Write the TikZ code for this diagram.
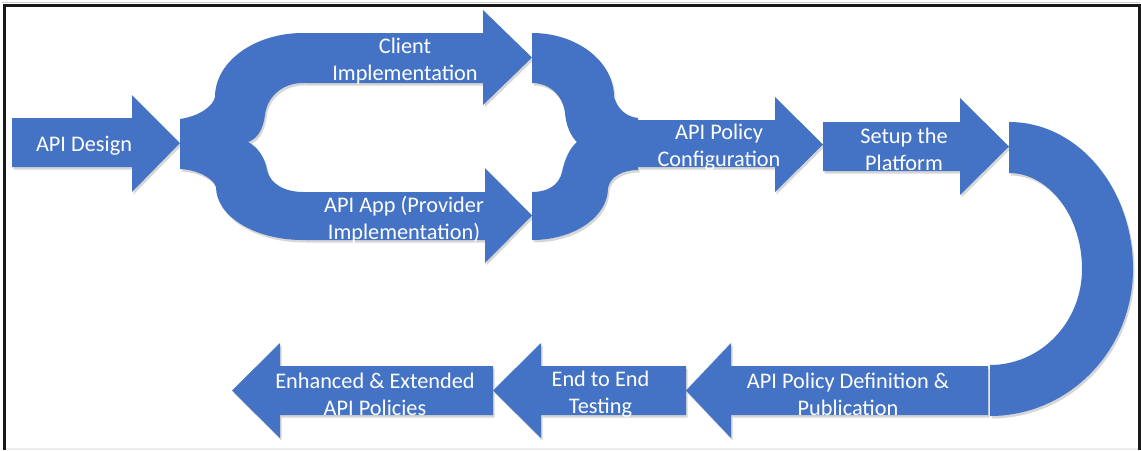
\documentclass[tikz,border=0pt]{standalone}
\usepackage{fontspec}
\setmainfont{Carlito}
\definecolor{officeblue}{HTML}{4472C4}
\def\pthDesign{(12,118) -- (132,118) -- (132,95) -- (180,143) -- (132,192) -- (132,167) -- (12,167) -- cycle}
\def\pthClient{(303,33) -- (483,33) -- (483,10) -- (532,57.5) -- (483,105) -- (483,83) -- (303,83) -- cycle}
\def\pthApp{(303,192) -- (485,192) -- (485,168) -- (532,215.5) -- (485,263) -- (485,240) -- (303,240) -- cycle}
\def\pthConfig{(638,120) -- (775,120) -- (775,97) -- (823,144.5) -- (775,192) -- (775,167) -- (638,167) -- cycle}
\def\pthSetup{(823,122) -- (960,122) -- (960,98) -- (1009,146.5) -- (960,195) -- (960,171) -- (823,171) -- cycle}
\def\pthDef{(988,366) -- (731,366) -- (731,343) -- (686,390.5) -- (731,438) -- (731,415) -- (988,415) -- cycle}
\def\pthTest{(686,366) -- (541,366) -- (541,343) -- (493,390.5) -- (541,438) -- (541,415) -- (686,415) -- cycle}
\def\pthEnh{(493,366) -- (280,366) -- (280,343) -- (232,390.5) -- (280,438) -- (280,415) -- (493,415) -- cycle}
\def\pthFork{(180,119) .. controls (200,116) and (213,106) .. (215,97)
  .. controls (215,61.7) and (254.4,33) .. (303,33) -- (303,83)
  .. controls (282,83) and (267,97) .. (265,115)
  .. controls (263,130) and (257,139) .. (248,142)
  .. controls (258,147) and (265,158) .. (267,170)
  .. controls (270,184) and (285,192) .. (303,192) -- (303,240)
  .. controls (255,240) and (216,216.3) .. (216,187)
  .. controls (213,178) and (198,170) .. (180,169) -- cycle}
\def\pthMerge{(532,33) .. controls (577.3,33) and (614,61.7) .. (614,97)
  .. controls (617,108) and (626,117) .. (638,118) -- (638,170)
  .. controls (622,170) and (610,177) .. (608,188)
  .. controls (608,216.7) and (574,240) .. (532,240) -- (532,192)
  .. controls (548,192) and (559,185) .. (562,172)
  .. controls (565,158) and (570,148) .. (577,142)
  .. controls (570,135) and (566,125) .. (565,113)
  .. controls (563,96) and (550,83) .. (532,83) -- cycle}
\def\pthU{(1009,122) .. controls (1078,122) and (1133,188) .. (1133,269)
  .. controls (1133,350) and (1069,416) .. (990,416) -- (990,365)
  .. controls (1041,365) and (1082,322) .. (1082,269)
  .. controls (1082,216) and (1049,173) .. (1009,173) -- cycle}
\begin{document}
\begin{tikzpicture}[x=1pt,y=-1pt,
  shd/.style={fill=black!16, shift={(1.5,2.5)}},
  blk/.style={fill=officeblue},
  txt/.style={text=white, align=center, inner sep=0pt,
    font=\fontsize{22.3}{27.2}\selectfont},
  frame/.style={line width=3pt, black!90}]
\useasboundingbox (0,0) rectangle (1141,450);
\fill[white] (0,0) rectangle (1141,450);
% frame
\draw[gray!40, line width=1pt] (2,2.5) -- (1140,2.5);
\draw[frame] (4.5,450) -- (4.5,5.5) -- (1139.5,5.5) -- (1139.5,450);
\draw[gray!15, line width=2pt] (6,449) -- (1138,449);
% shadows
\fill[shd] \pthDesign;
\fill[shd] \pthFork;
\fill[shd] \pthClient;
\fill[shd] \pthApp;
\fill[shd] \pthMerge;
\fill[shd] \pthConfig;
\fill[shd] \pthSetup;
\fill[shd] \pthU;
\fill[shd] \pthDef;
\fill[shd] \pthTest;
\fill[shd] \pthEnh;
% shapes
\fill[blk] \pthDesign;
\fill[blk] \pthFork;
\fill[blk] \pthClient;
\fill[blk] \pthApp;
\fill[blk] \pthMerge;
\fill[blk] \pthConfig;
\fill[blk] \pthSetup;
\fill[blk] \pthU;
\fill[blk] \pthDef;
\fill[blk] \pthTest;
\fill[blk] \pthEnh;
% texts
\node[txt] (tDesign) at (84,145.5) {API Design};
\node[txt] (tClient) at (405,61) {Client\\Implementation};
\node[txt] (tApp) at (404,219.5) {API App (Provider\\Implementation)};
\node[txt] (tConfig) at (719,147.5) {API Policy\\Configuration};
\node[txt] (tSetup) at (904,149.5) {Setup the\\Platform};
\node[txt] (tDef) at (848,394.5) {API Policy Definition \&\\Publication};
\node[txt] (tTest) at (600.5,394.5) {End to End\\Testing};
\node[txt] (tEnh) at (375,394.5) {Enhanced \& Extended\\API Policies};
\end{tikzpicture}
\end{document}
